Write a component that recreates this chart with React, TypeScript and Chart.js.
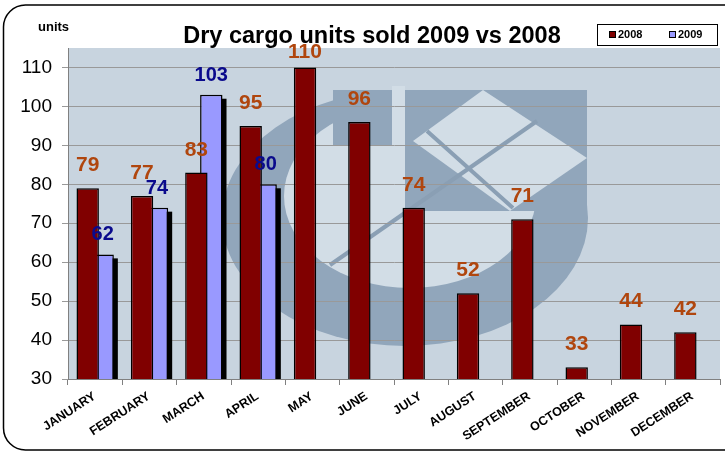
import React, { useEffect, useRef } from "react";
import { Chart, registerables } from "chart.js";

Chart.register(...registerables);

const months = ["JANUARY", "FEBRUARY", "MARCH", "APRIL", "MAY", "JUNE", "JULY", "AUGUST", "SEPTEMBER", "OCTOBER", "NOVEMBER", "DECEMBER"];
const sold2008 = [79, 77, 83, 95, 110, 96, 74, 52, 71, 33, 44, 42];
const sold2009: (number | null)[] = [62, 74, 103, 80, null, null, null, null, null, null, null, null];
const seriesNames = ["2008", "2009"];
const yTickValues = [30, 40, 50, 60, 70, 80, 90, 100, 110];
const yMin = 30;
const yMax = 115;
const chartTitle = "Dry cargo units sold 2009 vs 2008";
const unitLabel = "units";

const FONT = "'Liberation Sans', Arial, Helvetica, sans-serif";
const RED = "#800000";
const PURPLE = "#9999ff";
const LABEL08 = "#b0460e";
const LABEL09 = "#0a0a8c";
const PLOT_BG = "#c8d4df";
const MARK_DARK = "#91a6bb";
const MARK_LIGHT = "#d2dde6";

const decorPlugin = {
  id: "decor",
  beforeDraw(chart: any) {
    const { ctx, chartArea: ca, width, height } = chart;
    ctx.save();
    ctx.fillStyle = "#ffffff";
    ctx.fillRect(0, 0, width, height);
    ctx.fillStyle = PLOT_BG;
    ctx.fillRect(ca.left, ca.top, ca.right - ca.left, ca.bottom - ca.top);
    // faint watermark logo
    ctx.beginPath();
    ctx.rect(ca.left, ca.top, ca.right - ca.left, ca.bottom - ca.top);
    ctx.clip();
    ctx.fillStyle = MARK_DARK;
    ctx.beginPath();
    ctx.ellipse(405, 218, 183, 128, 0, 0, Math.PI * 2);
    ctx.fill();
    ctx.fillStyle = MARK_LIGHT;
    ctx.beginPath();
    ctx.ellipse(410, 196, 126, 92, 0, 0, Math.PI * 2);
    ctx.fill();
    ctx.fillStyle = MARK_DARK;
    ctx.fillRect(333, 90, 59, 55);
    ctx.fillRect(405, 90, 182, 121);
    ctx.fillStyle = MARK_LIGHT;
    ctx.fillRect(392, 86, 13, 62);
    ctx.beginPath();
    ctx.moveTo(413, 141);
    ctx.lineTo(483, 90);
    ctx.lineTo(587, 158);
    ctx.lineTo(510, 211);
    ctx.closePath();
    ctx.fill();
    ctx.strokeStyle = "#8a9fb4";
    ctx.lineWidth = 4;
    ctx.beginPath();
    ctx.moveTo(330, 265);
    ctx.lineTo(537, 121);
    ctx.moveTo(427, 131);
    ctx.lineTo(513, 208);
    ctx.stroke();
    ctx.restore();
  },
  beforeDatasetDraw(chart: any, args: any) {
    if (args.index !== 1) return;
    const { ctx, chartArea: ca } = chart;
    const meta = chart.getDatasetMeta(1);
    ctx.save();
    ctx.beginPath();
    ctx.rect(ca.left, ca.top, ca.right - ca.left, ca.bottom - ca.top);
    ctx.clip();
    ctx.fillStyle = "#000000";
    meta.data.forEach((el: any, i: number) => {
      if (sold2009[i] == null) return;
      const p = el.getProps(["x", "y", "base", "width"], true);
      ctx.fillRect(p.x - p.width / 2 + 4, p.y + 4, p.width, p.base - p.y);
    });
    ctx.restore();
  },
  afterDatasetsDraw(chart: any) {
    const { ctx } = chart;
    ctx.save();
    ctx.textAlign = "center";
    ctx.textBaseline = "alphabetic";
    const m0 = chart.getDatasetMeta(0);
    ctx.fillStyle = LABEL08;
    ctx.font = `bold 21px ${FONT}`;
    m0.data.forEach((el: any, i: number) => {
      const p = el.getProps(["x", "y"], true);
      const yy = Math.max(p.y - 17, 58);
      ctx.fillText(String(sold2008[i]), p.x, yy);
    });
    const m1 = chart.getDatasetMeta(1);
    ctx.fillStyle = LABEL09;
    ctx.font = `bold 20px ${FONT}`;
    m1.data.forEach((el: any, i: number) => {
      if (sold2009[i] == null) return;
      const p = el.getProps(["x", "y"], true);
      ctx.fillText(String(sold2009[i]), p.x, p.y - 14);
    });
    ctx.restore();
  },
  afterDraw(chart: any) {
    const { ctx } = chart;
    ctx.save();
    // x category labels (rotated)
    const xs = chart.scales.x;
    ctx.fillStyle = "#000";
    ctx.font = `bold 12.5px ${FONT}`;
    ctx.textAlign = "right";
    ctx.textBaseline = "top";
    months.forEach((m, i) => {
      const px = xs.getPixelForTick(i);
      ctx.save();
      ctx.translate(px - 4, 390);
      ctx.rotate(-33 * Math.PI / 180);
      ctx.fillText(m, 0, 0);
      ctx.restore();
    });
    // title
    ctx.fillStyle = "#000";
    ctx.textAlign = "center";
    ctx.textBaseline = "alphabetic";
    ctx.font = `bold 23.5px ${FONT}`;
    ctx.fillText(chartTitle, 372, 43);
    // units
    ctx.textAlign = "left";
    ctx.font = `bold 13px ${FONT}`;
    ctx.fillText(unitLabel, 38, 31);
    // legend
    ctx.fillStyle = "#fff";
    ctx.fillRect(597, 24, 120, 21);
    ctx.strokeStyle = "#000";
    ctx.lineWidth = 1;
    ctx.strokeRect(597.5, 24.5, 120, 21);
    const items = [
      { x: 609, color: RED, text: seriesNames[0] },
      { x: 669, color: PURPLE, text: seriesNames[1] },
    ];
    ctx.font = `bold 11px ${FONT}`;
    ctx.textBaseline = "middle";
    items.forEach((it) => {
      ctx.fillStyle = it.color;
      ctx.fillRect(it.x, 31, 7, 7);
      ctx.strokeStyle = "#000";
      ctx.strokeRect(it.x + 0.5, 31.5, 6, 6);
      ctx.fillStyle = "#000";
      ctx.fillText(it.text, it.x + 9, 35);
    });
    // outer rounded border
    ctx.strokeStyle = "#000";
    ctx.lineWidth = 1.5;
    ctx.beginPath();
    ctx.roundRect(3.5, 5, 760, 445, 22);
    ctx.stroke();
    ctx.restore();
  },
};

export default function App() {
  const ref = useRef<HTMLCanvasElement>(null);
  useEffect(() => {
    if (!ref.current) return;
    const chart = new Chart(ref.current, {
      type: "bar",
      data: {
        labels: months,
        datasets: [
          {
            label: seriesNames[0],
            data: sold2008,
            backgroundColor: RED,
            borderColor: "#000",
            borderWidth: 1.5,
            categoryPercentage: 0.55,
            barPercentage: 1.5,
          },
          {
            label: seriesNames[1],
            data: sold2009,
            backgroundColor: PURPLE,
            borderColor: "#000",
            borderWidth: 1.5,
            categoryPercentage: 0.55,
            barPercentage: 1.5,
          },
        ],
      },
      plugins: [decorPlugin],
      options: {
        responsive: false,
        animation: false,
        devicePixelRatio: 1,
        layout: { padding: { top: 48, right: 5, left: 0, bottom: 0 } },
        plugins: { legend: { display: false }, title: { display: false }, tooltip: { enabled: false } },
        scales: {
          x: {
            afterFit: (s: any) => { s.height = 73; },
            grid: { drawOnChartArea: false, offset: true, color: "#808080", tickLength: 6 },
            border: { color: "#808080", width: 1 },
            ticks: { display: false, autoSkip: false },
          },
          y: {
            min: yMin,
            max: yMax,
            afterFit: (s: any) => { s.width = 68; },
            afterBuildTicks: (s: any) => { s.ticks = yTickValues.map((v) => ({ value: v })); },
            grid: { color: "#999999", lineWidth: 1, tickLength: 6 },
            border: { color: "#808080", width: 1 },
            ticks: {
              padding: 10,
              color: "#000",
              font: { family: FONT, size: 19 },
            },
          },
        },
      },
    } as any);
    return () => chart.destroy();
  }, []);
  return (
    <div style={{ position: "absolute", left: 0, top: 0, width: 725, height: 452 }}>
      <canvas ref={ref} width={725} height={452} style={{ display: "block" }} />
    </div>
  );
}
